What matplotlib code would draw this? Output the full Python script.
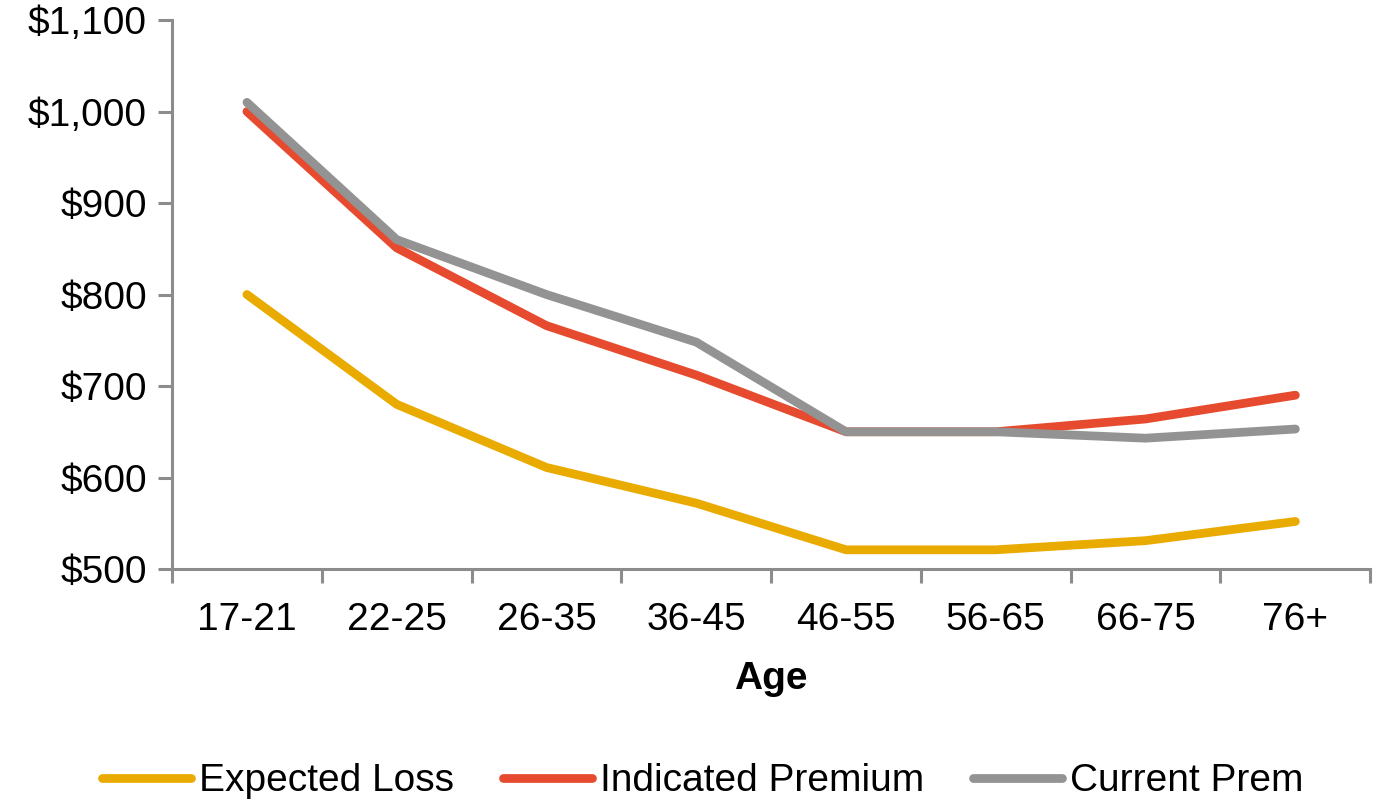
import matplotlib.pyplot as plt
from matplotlib.ticker import FuncFormatter

ages = ['17-21', '22-25', '26-35', '36-45', '46-55', '56-65', '66-75', '76+']
expected_loss = [800, 680, 611, 572, 521, 521, 531, 552]
indicated_premium = [1000, 851, 766, 712, 650, 650, 664, 690]
current_prem = [1010, 860, 800, 748, 650, 650, 643, 653]

plt.rcParams['font.family'] = ['Liberation Sans', 'DejaVu Sans']

fig = plt.figure(figsize=(13.73, 8.01), dpi=100)
ax = fig.add_axes([0.1253, 0.2896, 0.8727, 0.6854])

x = range(len(ages))
lw = 6.3
ax.plot(x, expected_loss, color='#EAAB00', lw=lw, solid_capstyle='round',
        solid_joinstyle='round', label='Expected Loss')
ax.plot(x, indicated_premium, color='#E64B2F', lw=lw, solid_capstyle='round',
        solid_joinstyle='round', label='Indicated Premium')
ax.plot(x, current_prem, color='#939393', lw=lw, solid_capstyle='round',
        solid_joinstyle='round', label='Current Prem')

ax.set_xlim(-0.5, len(ages) - 0.5)
ax.set_ylim(500, 1100)
ax.set_yticks(range(500, 1101, 100))
ax.yaxis.set_major_formatter(FuncFormatter(lambda v, p: f'${v:,.0f}'))
ax.set_xticks(list(x))
ax.set_xticklabels(ages)
ax.set_xticks([i - 0.5 for i in range(len(ages) + 1)], minor=True)
ax.tick_params(axis='x', which='major', length=0, labelsize=28, pad=24)
ax.tick_params(axis='x', which='minor', length=10, width=2.2, color='#8c8c8c')
ax.tick_params(axis='y', length=10, width=2.2, color='#8c8c8c', labelsize=28, pad=8)

for s in ['top', 'right']:
    ax.spines[s].set_visible(False)
for s in ['left', 'bottom']:
    ax.spines[s].set_color('#8c8c8c')
    ax.spines[s].set_linewidth(2.2)

ax.set_xlabel('Age', fontsize=28, fontweight='bold', labelpad=16)

ax.legend(loc='upper center', bbox_to_anchor=(0.443, -0.29), ncol=3, frameon=False,
          fontsize=28, handlelength=2.3, handletextpad=0.2, columnspacing=1.25)

fig.savefig('out.png', dpi=100)
